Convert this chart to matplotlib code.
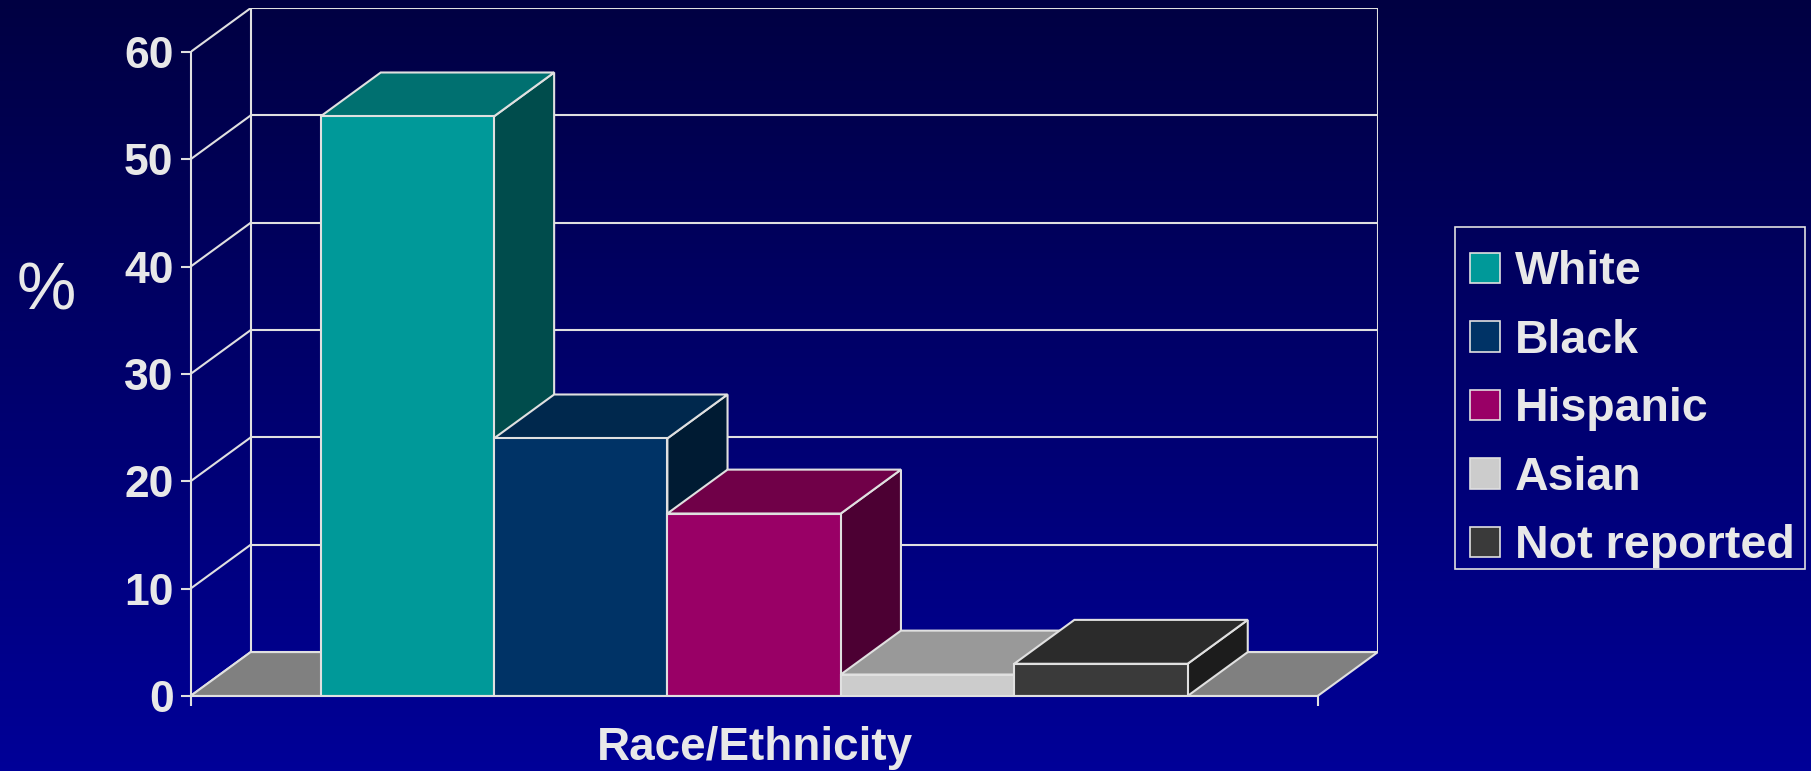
import numpy as np
import matplotlib.pyplot as plt
from matplotlib.patches import Polygon, Patch, Rectangle

# Share of participants by race/ethnicity
groups = ["White", "Black", "Hispanic", "Asian", "Not reported"]
percent = [54, 24, 17, 2, 3]
front_colors = ["#009999", "#003366", "#990066", "#CCCCCC", "#3A3A3A"]
top_colors = ["#007070", "#00284D", "#700048", "#999999", "#2B2B2B"]
side_colors = ["#004C4C", "#001B33", "#4C0033", "#7A7A7A", "#1C1C1C"]
yticks = [0, 10, 20, 30, 40, 50, 60]

txt = "#E8E8E8"
edge = "#E0E0E0"
font = "Liberation Sans"

# fake 3d geometry (data units)
margin = 0.75      # gap between the axis and the first / last bar
depth_x = 0.347    # receding offset along x
depth_y = 4.09     # receding offset along y (percent units)
floor_w = 2 * margin + len(groups)
x_max = floor_w + depth_x
y_top = 60

W, H = 1811, 771
fig = plt.figure(figsize=(W / 100, H / 100), dpi=100)

# background gradient
bg = fig.add_axes([0, 0, 1, 1], zorder=-10)
grad = np.linspace(0, 1, 256).reshape(-1, 1)
top_c = np.array([0x00, 0x00, 0x42]) / 255
bot_c = np.array([0x00, 0x00, 0x98]) / 255
img = top_c + (bot_c - top_c) * grad[..., None]
bg.imshow(img, aspect="auto", extent=[0, 1, 0, 1], origin="upper")
bg.axis("off")

ax = fig.add_axes([0.1052, 0.0973, 0.6556, 0.8922])
ax.set_facecolor("none")
ax.set_xlim(0, x_max)
ax.set_ylim(0, y_top + depth_y)

lw = 1.5

# back wall and side wall grid
for v in yticks:
    ax.plot([depth_x, x_max], [v + depth_y, v + depth_y], color=edge, lw=lw, zorder=1)
    ax.plot([0, depth_x], [v, v + depth_y], color=edge, lw=lw, zorder=1)
ax.plot([depth_x, depth_x], [depth_y, y_top + depth_y], color=edge, lw=lw, zorder=1)
ax.plot([x_max, x_max], [depth_y, y_top + depth_y], color=edge, lw=lw, zorder=1)

# floor
ax.add_patch(Polygon([(0, 0), (floor_w, 0), (x_max, depth_y), (depth_x, depth_y)],
                     closed=True, facecolor="#808080", edgecolor=edge, lw=lw, zorder=2))

# bars, drawn left to right so each one covers the previous side face
for i, v in enumerate(percent):
    x0 = margin + i
    x1 = x0 + 1
    z = 3 + i
    ax.add_patch(Polygon([(x1, 0), (x1 + depth_x, depth_y), (x1 + depth_x, v + depth_y), (x1, v)],
                         closed=True, facecolor=side_colors[i], edgecolor=edge, lw=lw, zorder=z))
    ax.add_patch(Polygon([(x0, v), (x1, v), (x1 + depth_x, v + depth_y), (x0 + depth_x, v + depth_y)],
                         closed=True, facecolor=top_colors[i], edgecolor=edge, lw=lw, zorder=z))
    ax.add_patch(Polygon([(x0, 0), (x1, 0), (x1, v), (x0, v)],
                         closed=True, facecolor=front_colors[i], edgecolor=edge, lw=lw, zorder=z))

# front value axis
for s in ["top", "right"]:
    ax.spines[s].set_visible(False)
ax.spines["left"].set_bounds(0, y_top)
ax.spines["bottom"].set_bounds(0, floor_w)
for s in ["left", "bottom"]:
    ax.spines[s].set_color(edge)
    ax.spines[s].set_linewidth(lw)
    ax.spines[s].set_zorder(20)
ax.set_yticks(yticks)
ax.set_yticklabels([str(t) for t in yticks])
ax.set_xticks([0, floor_w])
ax.set_xticklabels(["", ""])
ax.tick_params(axis="y", colors=edge, length=7.2, width=lw, pad=5, labelcolor=txt)
ax.tick_params(axis="x", colors=edge, length=7, width=lw)
for lab in ax.get_yticklabels():
    lab.set_fontfamily(font)
    lab.set_fontweight("bold")
    lab.set_fontsize(32)

fig.text(0.0255, 0.598, "%", color=txt, fontsize=48, family=font, ha="center", va="baseline")
fig.text(0.417, 0.0143, "Race/Ethnicity", color=txt, fontsize=33, family=font,
         fontweight="bold", ha="center", va="baseline")

# legend with a hand-placed frame
handles = [Patch(facecolor=c, edgecolor=edge, lw=1.2) for c in front_colors]
leg = fig.legend(handles, groups, loc="upper left", bbox_to_anchor=(1455 / W, 1 - 235 / H),
                 frameon=False, prop={"family": font, "weight": "bold", "size": 33.5},
                 handlelength=0.64, handleheight=0.64, handletextpad=0.32,
                 labelspacing=0.527, borderpad=0.33, borderaxespad=0)
for t in leg.get_texts():
    t.set_color(txt)
fig.add_artist(Rectangle((1455 / W, 1 - 569 / H), 350 / W, 342 / H, transform=fig.transFigure,
                         facecolor="none", edgecolor=edge, lw=1.2))

fig.savefig("out.png", dpi=100)
